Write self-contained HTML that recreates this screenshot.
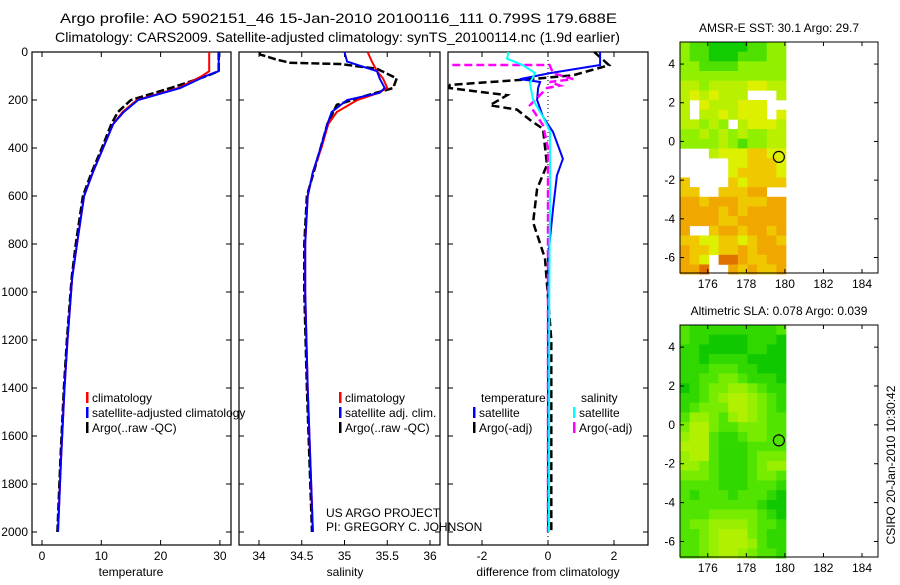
<!DOCTYPE html>
<html><head><meta charset="utf-8"><style>
body{margin:0;background:#fff;width:900px;height:580px;overflow:hidden}
svg{font-family:"Liberation Sans",sans-serif}
text{font-size:12px;fill:#000}
</style></head><body>
<svg id="c" width="900" height="580" viewBox="0 0 900 580">
<text x="60" y="23" textLength="557" lengthAdjust="spacingAndGlyphs" style="font-size:14px">Argo profile: AO 5902151_46 15-Jan-2010 20100116_111 0.799S 179.688E</text>
<text x="55" y="42" textLength="565" lengthAdjust="spacingAndGlyphs" style="font-size:14px">Climatology: CARS2009. Satellite-adjusted climatology: synTS_20100114.nc (1.9d earlier)</text>
</svg>
<script>
// ---- data ----
const depthTicks=[0,200,400,600,800,1000,1200,1400,1600,1800,2000];
const tempTicks=[0,10,20,30];
const salTicks=[34,34.5,35,35.5,36];
const salTickLabels=["34","34.5","35","35.5","36"];
const diffTicks=[-2,0,2];
const tDepth=[0,80,100,150,200,250,300,400,500,600,800,940,1200,1400,1700,2000];
const tClim=[28.2,28.2,27.0,23.0,16.0,13.6,12.0,10.3,8.6,7.1,5.9,5.1,4.3,3.8,3.2,2.7];
const tSat=[29.8,29.8,27.6,23.3,16.2,13.8,12.0,10.3,8.6,7.1,5.9,5.1,4.3,3.8,3.2,2.7];
const tArgo=[29.8,29.8,27.8,21.7,15.0,12.8,11.7,10.1,8.4,6.9,5.7,5.0,4.2,3.7,3.1,2.6];
const sDepth=[0,40,80,110,150,170,200,250,300,400,500,600,800,1000,1400,2000];
const sClim=[35.27,35.32,35.38,35.45,35.5,35.4,35.15,34.91,34.81,34.73,34.63,34.57,34.54,34.54,34.57,34.63];
const sSat=[35.0,35.03,35.38,35.41,35.47,35.41,35.03,34.85,34.8,34.72,34.63,34.57,34.54,34.54,34.57,34.63];
const aDepth=[0,10,30,45,50,70,110,150,180,220,300,400,600,800,1000,1400,2000];
const sArgo=[34.01,34.01,34.19,34.36,34.95,35.38,35.61,35.57,35.27,34.91,34.8,34.72,34.56,34.53,34.53,34.56,34.62];
const dDepth=[0,54,88,113,125,150,200,270,333,445,515,655,860,1200,2000];
const dTSat=[1.58,1.58,0.06,-0.85,-0.24,-0.3,-0.33,-0.15,0.15,0.45,0.27,0.15,0.0,0.0,0.0];
const dTDepth=[0,55,97,113,137,150,180,222,240,283,320,470,570,710,860,1200,1600,2000];
const dTArgo=[1.4,1.85,0.76,-0.5,-2.97,-3.0,-1.24,-1.76,-0.94,-0.55,-0.15,-0.03,-0.33,-0.45,-0.09,0.1,0.1,0.1];
const dSDepth=[54,54,88,113,125,140,150,222,305,400,800,2000];
const dSArgo=[-2.9,0.05,0.15,0.76,0.05,0.36,-0.03,-0.55,-0.15,0,0,0];
const dCDepth=[0,28,55,88,130,200,270,330,600,1000,2000];
const dSCyan=[-1.2,-1.24,-0.76,-0.39,-0.55,-0.45,-0.15,0.06,0.06,0.04,0.03];
const mapYTicks=[4,2,0,-2,-4,-6];
const mapXTicks=[176,178,180,182,184];
const sstGrid=["21100001122","21100011122","22111122222","22222222222","33233334433","3434333...3","3.4333444..","3.3343444.4","33232.34443","22323232233","22223212233","...34445544",".....445554",".....455554","5....545555","55..55566..","66566655566","66665656666","66665566666","6..56656656","55445545665","65545565666","654.7765566","667..656556"];
const slaGrid=["21111111112","21100001110","11000001100","11011110000","11122211000","11223321110","01233443211","11234554321","12333554321","24432454322","35532233322","45521123322","55521112222","45521112333","44321112344","33321112332","22221112221","21222122210","22222222100","22233333210","23344443221","22345553211","22345554211","22345543221"];
const sstColors=["#10cc00","#50e000","#90f000","#b8f000","#dcf000","#f0c800","#f0a800","#e07000"];
const slaColors=["#10c800","#30d800","#50e400","#78ec00","#98f000","#b0f000","#c8f400"];
const argoLon=179.688, argoLat=-0.799;

// ---- drawing ----
const svg=document.getElementById('c');
const NS='http://www.w3.org/2000/svg';
function mk(tag,attrs,parent){const e=document.createElementNS(NS,tag);for(const k in attrs)e.setAttribute(k,attrs[k]);(parent||svg).appendChild(e);return e;}
const Y0=52,YS=0.24,PB=545;
const yD=d=>Y0+d*YS;
const panels=[
 {x0:32,x1:231,f:v=>42+v*5.93,name:'temperature-panel'},
 {x0:239,x1:440,f:v=>259+(v-34)*85.5,name:'salinity-panel'},
 {x0:448,x1:648,f:v=>548+v*33,name:'difference-panel'}];
panels.forEach((p,i)=>{
 const g=mk('g',{});
 
 
 const r=mk('rect',{x:p.x0,y:Y0,width:p.x1-p.x0,height:PB-Y0,fill:'none',stroke:'#000','stroke-width':1.2},g);
 
 
 depthTicks.forEach(d=>{
  mk('line',{x1:p.x0,x2:p.x0+5,y1:yD(d),y2:yD(d),stroke:'#000'},g);
  mk('line',{x1:p.x1,x2:p.x1-5,y1:yD(d),y2:yD(d),stroke:'#000'},g);
 });
 p.g=g;
});
depthTicks.forEach(d=>{const t=mk('text',{x:28,y:yD(d)+4,'text-anchor':'end'});t.textContent=d;
 
 });
function xticks(p,vals,labels){vals.forEach((v,i)=>{const x=p.f(v);
 mk('line',{x1:x,x2:x,y1:Y0,y2:Y0+5,stroke:'#000'},p.g);mk('line',{x1:x,x2:x,y1:PB,y2:PB-5,stroke:'#000'},p.g);
 const t=mk('text',{x:x,y:PB+15,'text-anchor':'middle'},p.g);t.textContent=labels?labels[i]:v;
 
 });}
xticks(panels[0],tempTicks);xticks(panels[1],salTicks,salTickLabels);xticks(panels[2],diffTicks);
[['temperature',131],['salinity',345],['difference from climatology',548]].forEach(a=>{const t=mk('text',{x:a[1],y:576,'text-anchor':'middle'});t.textContent=a[0];
 
 });
function line(p,vals,depths,color,dash,name,w){const pts=vals.map((v,i)=>p.f(v).toFixed(1)+','+yD(depths[i]).toFixed(1)).join(' ');
 const e=mk('polyline',{points:pts,fill:'none',stroke:color,'stroke-width':w||2,'stroke-dasharray':dash||'none'},p.g);
 
 }
const P=panels;
const z=mk('line',{x1:P[2].f(0),x2:P[2].f(0),y1:Y0,y2:PB,stroke:'#000','stroke-dasharray':'1,3'},P[2].g);


line(P[0],tArgo,tDepth,'#000','8,3','temp-argo-line',2.5);
line(P[0],tClim,tDepth,'#f00',null,'temp-climatology-line');
line(P[0],tSat,tDepth,'#00f',null,'temp-satellite-line');
line(P[1],sArgo,aDepth,'#000','8,3','sal-argo-line',2.5);
line(P[1],sClim,sDepth,'#f00',null,'sal-climatology-line');
line(P[1],sSat,sDepth,'#00f',null,'sal-satellite-line');
line(P[2],dTArgo,dTDepth,'#000','8,4','diff-temp-argo-line',2.5);
line(P[2],dTSat,dDepth,'#00f',null,'diff-temp-satellite-line');
line(P[2],dSArgo,dSDepth,'#f0f','8,4','diff-sal-argo-line',2.5);
line(P[2],dSCyan,dCDepth,'#0ff',null,'diff-sal-satellite-line');
function leg(x,y,color,label,name){const b=mk('rect',{x:x,y:y-10,width:2.5,height:11,fill:color});
 
 
 if(label){const t=mk('text',{x:x+6,y:y});t.textContent=label;
 
 }}
leg(86,402,'#f00','climatology','legend-climatology');
leg(86,417,'#00f','satellite-adjusted climatology','legend-satellite-adjusted');
leg(86,432,'#000','Argo(..raw -QC)','legend-argo-raw');
leg(339,402,'#f00','climatology','legend-sal-climatology');
leg(339,417,'#00f','satellite adj. clim.','legend-sal-satellite');
leg(339,432,'#000','Argo(..raw -QC)','legend-sal-argo');
{const t=mk('text',{x:481,y:402});t.textContent='temperature';}
{const t=mk('text',{x:581,y:402});t.textContent='salinity';}
leg(473,417,'#00f','satellite','legend-diff-temp-satellite');
leg(473,432,'#000','Argo(-adj)','legend-diff-temp-argo');
leg(573,417,'#0ff','satellite','legend-diff-sal-satellite');
leg(573,432,'#f0f','Argo(-adj)','legend-diff-sal-argo');
{const t=mk('text',{x:326,y:517});t.textContent='US ARGO PROJECT';}
{const t=mk('text',{x:326,y:531});t.textContent='PI: GREGORY C. JOHNSON';}
function map(top,bottom,grid,colors,title,name){
 const L=680,R=878,lonS=174.56,latT=5.14,px=19.28;
 const fx=lon=>L+(lon-lonS)*px, fy=lat=>top+(latT-lat)*((bottom-top)/(latT+6.8));
 const g=mk('g',{});
 
 
 grid.forEach((row,i)=>{for(let j=0;j<row.length;j++){const c=row[j];if(c==='.')continue;
  const lon=lonS+j*0.5, lat=latT-i*0.5;
  const x=fx(lon),y=fy(lat),x2=fx(Math.min(lon+0.5,180.12)),y2=fy(lat-0.5);
  const r=mk('rect',{x:x,y:y,width:x2-x+0.3,height:y2-y+0.3,fill:colors[+c]},g);
  
  }});
 mk('rect',{x:L,y:top,width:R-L,height:bottom-top,fill:'none',stroke:'#000'},g);
 mapYTicks.forEach(v=>{const y=fy(v);mk('line',{x1:L,x2:L+4,y1:y,y2:y,stroke:'#000'},g);mk('line',{x1:R,x2:R-4,y1:y,y2:y,stroke:'#000'},g);
  const t=mk('text',{x:L-5,y:y+4,'text-anchor':'end'},g);t.textContent=v;
  
  });
 mapXTicks.forEach(v=>{const x=fx(v);mk('line',{x1:x,x2:x,y1:top,y2:top+4,stroke:'#000'},g);mk('line',{x1:x,x2:x,y1:bottom,y2:bottom-4,stroke:'#000'},g);
  const t=mk('text',{x:x,y:bottom+15,'text-anchor':'middle'},g);t.textContent=v;
  
  });
 const c=mk('circle',{cx:fx(argoLon),cy:fy(argoLat),r:5.5,fill:'none',stroke:'#000','stroke-width':1.2},g);
 
 
 const t=mk('text',{x:779,y:top-10,'text-anchor':'middle'},g);t.textContent=title;
 
 
}
map(42,273,sstGrid,sstColors,'AMSR-E SST: 30.1 Argo: 29.7','sst-map');
map(325,557,slaGrid,slaColors,'Altimetric SLA: 0.078 Argo: 0.039','sla-map');
{const t=mk('text',{x:0,y:0,transform:'translate(895,465) rotate(-90)','text-anchor':'middle'});t.textContent='CSIRO 20-Jan-2010 10:30:42';}
</script>
</body></html>
